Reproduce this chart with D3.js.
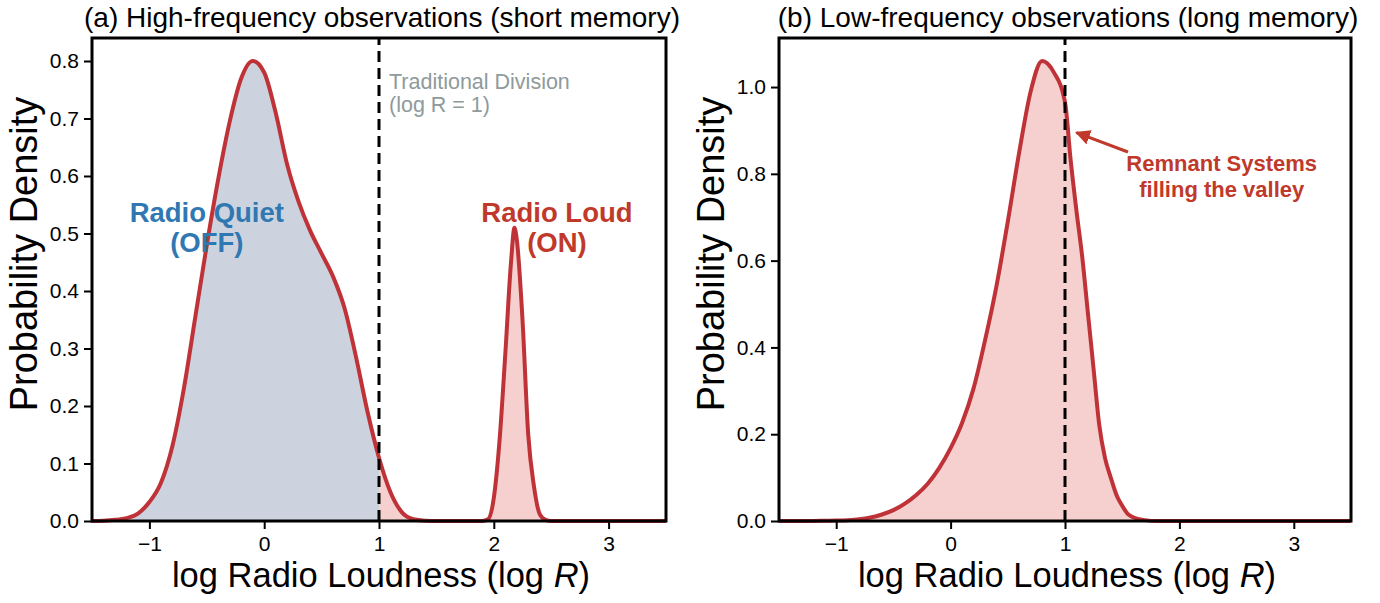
<!DOCTYPE html>
<html>
<head>
<meta charset="utf-8">
<script src="https://cdn.jsdelivr.net/npm/d3@7"></script>
<style>
  body { margin: 0; background: #fff; }
  svg text { font-family: "Liberation Sans", Arial, Helvetica, sans-serif; }
</style>
</head>
<body>
<div id="chart"></div>
<script>

// DATA
const xTicks = [-1, 0, 1, 2, 3];
const yTicksA = [0, 0.1, 0.2, 0.3, 0.4, 0.5, 0.6, 0.7, 0.8];
const yTicksB = [0, 0.2, 0.4, 0.6, 0.8, 1.0];

// panel a: bimodal density (short memory)
const logRA = [-1.5, -1.4, -1.3, -1.2, -1.1, -1.0, -0.9, -0.8, -0.7, -0.6, -0.5, -0.4, -0.3, -0.2, -0.1,
  0.0, 0.1, 0.2, 0.3, 0.4, 0.5, 0.6, 0.7, 0.8, 0.9, 1.0, 1.1, 1.2, 1.3, 1.4, 1.5,
  1.9, 1.95, 2.0, 2.05, 2.1, 2.15, 2.18, 2.2, 2.25, 2.3, 2.35, 2.4, 2.45, 2.5, 3.0, 3.5];
const densA = [0, 0.0005, 0.002, 0.005, 0.013, 0.033, 0.066, 0.13, 0.23, 0.355, 0.48, 0.595, 0.695, 0.77, 0.8,
  0.78, 0.71, 0.62, 0.555, 0.505, 0.465, 0.425, 0.37, 0.285, 0.19, 0.11, 0.05, 0.015, 0.003, 0.0005, 0,
  0, 0.003, 0.04, 0.14, 0.29, 0.45, 0.51, 0.49, 0.35, 0.15, 0.06, 0.012, 0.002, 0, 0, 0];

// panel b: single broad density (long memory)
const logRB = [-1.5, -1.2, -1.1, -1.0, -0.9, -0.8, -0.7, -0.6, -0.5, -0.4, -0.3, -0.2, -0.1,
  0.0, 0.1, 0.2, 0.3, 0.4, 0.5, 0.6, 0.7, 0.8, 0.9, 1.0, 1.05, 1.1, 1.15, 1.2, 1.25, 1.3,
  1.35, 1.4, 1.45, 1.5, 1.55, 1.6, 1.7, 1.8, 2.5, 3.5];
const densB = [0, 0, 0.0005, 0.001, 0.002, 0.004, 0.008, 0.015, 0.025, 0.04, 0.06, 0.086, 0.122,
  0.168, 0.226, 0.305, 0.415, 0.54, 0.69, 0.85, 0.99, 1.06, 1.035, 0.965, 0.83, 0.715, 0.61, 0.48, 0.35, 0.22,
  0.145, 0.1, 0.06, 0.035, 0.016, 0.008, 0.002, 0, 0, 0];

const colors = {
  line: '#bf3338',
  pink: '#f5d0ce',
  blue: '#ccd3df',
  blueText: '#2f78b1',
  redText: '#c0392b',
  grey: '#8e9a9b'
};

const W = 1380, H = 603;

const svg = d3.select('#chart').append('svg')
  .attr('width', W)
  .attr('height', H);

const defs = svg.append('defs');

defs.append('marker')
  .attr('id', 'arrowhead')
  .attr('viewBox', '0 0 10 10')
  .attr('refX', 9)
  .attr('refY', 5)
  .attr('markerWidth', 5)
  .attr('markerHeight', 5)
  .attr('markerUnits', 'strokeWidth')
  .attr('orient', 'auto')
  .append('path')
  .attr('d', 'M0,0 L10,5 L0,10 z')
  .attr('fill', colors.redText);

function drawPanel(cfg) {
  const xScale = d3.scaleLinear().domain([-1.5, 3.5]).range([cfg.left, cfg.right]);
  const yScale = d3.scaleLinear().domain([0, cfg.ymax]).range([cfg.bottom, cfg.top]);

  const g = svg.append('g').attr('class', 'panel-' + cfg.id);
  const pts = cfg.xs.map((x, i) => [x, cfg.ys[i]]);

  const area = d3.area()
    .x(d => xScale(d[0]))
    .y0(yScale(0))
    .y1(d => yScale(d[1]))
    .curve(d3.curveMonotoneX);

  const line = d3.line()
    .x(d => xScale(d[0]))
    .y(d => yScale(d[1]))
    .curve(d3.curveMonotoneX);

  // fills, split at log R = 1
  cfg.fills.forEach((f, i) => {
    const cid = 'clip-' + cfg.id + '-' + i;
    defs.append('clipPath').attr('id', cid)
      .append('rect')
      .attr('x', xScale(f.from))
      .attr('y', cfg.top)
      .attr('width', xScale(f.to) - xScale(f.from))
      .attr('height', cfg.bottom - cfg.top);
    g.append('path')
      .datum(pts)
      .attr('d', area)
      .attr('fill', f.color)
      .attr('clip-path', 'url(#' + cid + ')');
  });

  g.append('path')
    .datum(pts)
    .attr('d', line)
    .attr('fill', 'none')
    .attr('stroke', colors.line)
    .attr('stroke-width', 4)
    .attr('stroke-linejoin', 'round');

  // traditional division
  g.append('line')
    .attr('x1', xScale(1)).attr('x2', xScale(1))
    .attr('y1', cfg.bottom).attr('y2', cfg.top)
    .attr('stroke', '#000')
    .attr('stroke-width', 3)
    .attr('stroke-dasharray', '11,6');

  // axes
  const xAxis = d3.axisBottom(xScale).tickValues(xTicks).tickSize(8).tickPadding(7)
    .tickFormat(d => d < 0 ? '\u2212' + Math.abs(d) : d);
  const yAxis = d3.axisLeft(yScale).tickValues(cfg.yTicks).tickSize(8).tickPadding(5)
    .tickFormat(d3.format('.1f'));

  g.append('g')
    .attr('transform', 'translate(0,' + cfg.bottom + ')')
    .call(xAxis)
    .call(a => a.select('.domain').remove());
  g.append('g')
    .attr('transform', 'translate(' + cfg.left + ',0)')
    .call(yAxis)
    .call(a => a.select('.domain').remove());

  g.selectAll('.tick line').attr('stroke', '#000').attr('stroke-width', 2);
  g.selectAll('.tick text').attr('font-size', 21).attr('fill', '#000')
    .style('font-family', '"Liberation Sans", Arial, sans-serif');

  g.append('rect')
    .attr('x', cfg.left).attr('y', cfg.top)
    .attr('width', cfg.right - cfg.left)
    .attr('height', cfg.bottom - cfg.top)
    .attr('fill', 'none')
    .attr('stroke', '#000')
    .attr('stroke-width', 3);

  // labels
  const cx = (cfg.left + cfg.right) / 2;
  g.append('text')
    .attr('x', cx + 3).attr('y', 27)
    .attr('text-anchor', 'middle')
    .attr('font-size', 28)
    .text(cfg.title);

  const xl = g.append('text')
    .attr('x', cx + 2).attr('y', 587)
    .attr('text-anchor', 'middle')
    .attr('font-size', 34.5);
  xl.append('tspan').text('log Radio Loudness (log ');
  xl.append('tspan').attr('font-style', 'italic').text('R');
  xl.append('tspan').text(')');

  g.append('text')
    .attr('transform', 'translate(' + (cfg.left - 55) + ',254) rotate(-90)')
    .attr('text-anchor', 'middle')
    .attr('font-size', 38)
    .text('Probability Density');

  return { x: xScale, y: yScale, g: g };
}

const panelA = drawPanel({
  id: 'a', left: 92, right: 666, top: 38, bottom: 521, ymax: 0.84,
  xs: logRA, ys: densA, yTicks: yTicksA,
  title: '(a) High-frequency observations (short memory)',
  fills: [{ from: -1.5, to: 1, color: colors.blue }, { from: 1, to: 3.5, color: colors.pink }]
});

const panelB = drawPanel({
  id: 'b', left: 779, right: 1351, top: 38, bottom: 521, ymax: 1.113,
  xs: logRB, ys: densB, yTicks: yTicksB,
  title: '(b) Low-frequency observations (long memory)',
  fills: [{ from: -1.5, to: 3.5, color: colors.pink }]
});

// annotations
function multiline(g, x, y, lines, size, color, weight, anchor, gap) {
  const t = g.append('text')
    .attr('x', x).attr('y', y)
    .attr('text-anchor', anchor)
    .attr('font-size', size)
    .attr('font-weight', weight)
    .attr('fill', color);
  lines.forEach((s, i) => {
    t.append('tspan').attr('x', x).attr('dy', i === 0 ? 0 : gap).text(s);
  });
}

multiline(panelA.g, panelA.x(1) + 10, 89, ['Traditional Division', '(log R = 1)'], 21.5, colors.grey, 'normal', 'start', 23);
multiline(panelA.g, panelA.x(-0.5), 222, ['Radio Quiet', '(OFF)'], 27.5, colors.blueText, 'bold', 'middle', 30);
multiline(panelA.g, panelA.x(2.55), 222, ['Radio Loud', '(ON)'], 27.5, colors.redText, 'bold', 'middle', 30);

panelB.g.append('line')
  .attr('x1', 1128).attr('y1', 152)
  .attr('x2', panelB.x(1.1)).attr('y2', panelB.y(0.895))
  .attr('stroke', colors.redText)
  .attr('stroke-width', 3)
  .attr('marker-end', 'url(#arrowhead)');
multiline(panelB.g, panelB.x(2.37), 171, ['Remnant Systems', 'filling the valley'], 22, colors.redText, 'bold', 'middle', 26);

</script>
</body>
</html>
